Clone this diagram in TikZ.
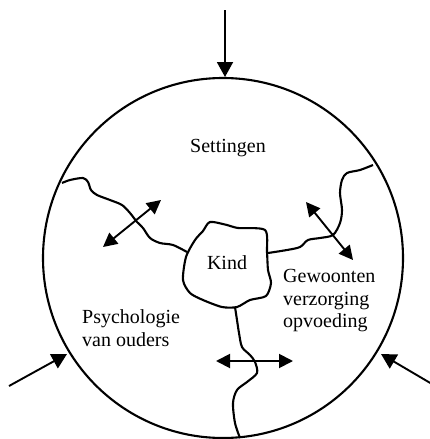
\documentclass[tikz,border=0pt]{standalone}
\usepackage{fontspec}
\setmainfont{Liberation Serif}
\usetikzlibrary{arrows.meta}
\begin{document}
\begin{tikzpicture}[x=1pt,y=-1pt,
  outer/.style={line width=2.1pt},
  border/.style={line width=2.1pt,line join=round},
  inarrow/.style={line width=1.9pt,-{Triangle[length=15pt,width=16pt]}},
  twoway/.style={line width=1.9pt,{Triangle[length=14pt,width=14pt]}-{Triangle[length=14pt,width=14pt]}},
  lbl/.style={font=\fontsize{20}{22.5}\selectfont,inner sep=0pt,align=left}]
\useasboundingbox (0,0) rectangle (430,439);
% world circle
\coordinate (c) at (223,258);
\draw[outer] (c) circle[radius=180];
% incoming arrows
\coordinate (topS) at (225,10);
\coordinate (topE) at (225,77);
\coordinate (leftS) at (9,386);
\coordinate (leftE) at (67,354);
\coordinate (rightS) at (432,384);
\coordinate (rightE) at (381,354);
\draw[inarrow] (topS) -- (topE);
\draw[inarrow] (leftS) -- (leftE);
\draw[inarrow] (rightS) -- (rightE);
% Kind region
\draw[border] plot[smooth cycle,tension=0.45] coordinates {(210,222) (227,225) (238,228) (265,230) (267,252) (268,270) (271,283) (266,296) (250,300) (237,307) (222,307) (203,300) (190,293) (183,280) (186,257) (195,240) (203,231)};
% boundaries
\draw[border] plot[smooth,tension=0.5] coordinates {(62,183) (70,180) (83,178) (88,182) (91,190) (97,195) (110,200) (122,205) (130,213) (137,222) (143,228) (150,238) (160,243) (173,245) (187,252)};
\draw[border] plot[smooth,tension=0.5] coordinates {(373,165) (360,170) (347,173) (342,180) (340,193) (342,210) (340,223) (333,235) (320,238) (308,240) (300,247) (287,250) (268,253)};
\draw[border] plot[smooth,tension=0.5] coordinates {(235,307) (237,320) (239,333) (242,347) (250,355) (255,362) (257,373) (247,382) (237,390) (233,403) (235,423) (240,438)};
% two-way arrows
\coordinate (la) at (103,247);
\coordinate (lb) at (161,200);
\coordinate (ra) at (306,202);
\coordinate (rb) at (353,260);
\coordinate (ba) at (216,361);
\coordinate (bb) at (293,361);
\draw[twoway] (la) -- (lb);
\draw[twoway] (ra) -- (rb);
\draw[twoway] (ba) -- (bb);
% labels
\node[lbl] (settingen) at (228,148) {Settingen};
\node[lbl] (kind) at (227,263) {Kind};
\node[lbl,anchor=west] (gewoonten) at (283,301) {Gewoonten\\verzorging\\opvoeding};
\node[lbl,anchor=west] (psych) at (82,328) {Psychologie\\van ouders};
\end{tikzpicture}
\end{document}
